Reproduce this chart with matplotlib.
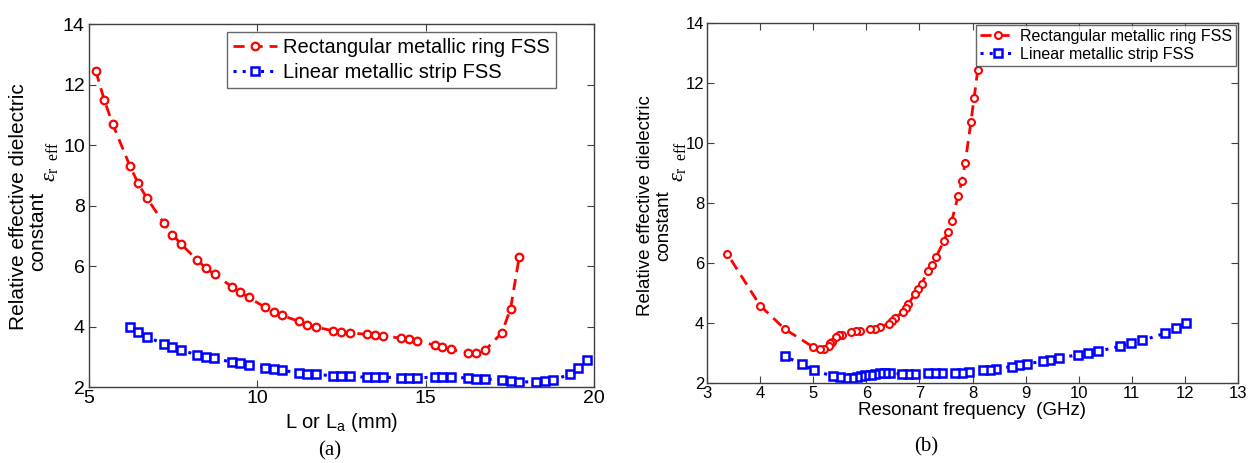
import matplotlib
matplotlib.use("Agg")
import matplotlib.pyplot as plt

plt.rcParams['font.family'] = ['Liberation Sans', 'DejaVu Sans']
plt.rcParams['mathtext.fontset'] = 'custom'
plt.rcParams['mathtext.rm'] = 'Liberation Serif'
plt.rcParams['mathtext.it'] = 'Liberation Serif:italic'
plt.rcParams['mathtext.sf'] = 'Liberation Sans'
plt.rcParams['mathtext.fallback'] = 'stix'

# ---- data ----
L_ring = [5.2, 5.45, 5.7, 6.21, 6.46, 6.72, 7.23, 7.48, 7.73, 8.22, 8.47, 8.73,
          9.25, 9.49, 9.74, 10.24, 10.49, 10.73, 11.23, 11.48, 11.75, 12.24, 12.49, 12.75,
          13.26, 13.5, 13.74, 14.26, 14.5, 14.75, 15.27, 15.5, 15.75, 16.25, 16.5, 16.76,
          17.26, 17.52, 17.78]
eps_ring = [12.45, 11.5, 10.7, 9.32, 8.73, 8.24, 7.41, 7.04, 6.73, 6.19, 5.94, 5.72,
            5.31, 5.13, 4.96, 4.63, 4.49, 4.37, 4.17, 4.06, 3.98, 3.86, 3.81, 3.79,
            3.74, 3.72, 3.70, 3.61, 3.59, 3.53, 3.38, 3.32, 3.24, 3.14, 3.14, 3.21,
            3.79, 4.58, 6.31]
f_ring = [8.10, 8.03, 7.97, 7.86, 7.80, 7.73, 7.61, 7.53, 7.46, 7.31, 7.24, 7.16,
          7.04, 6.97, 6.91, 6.79, 6.74, 6.69, 6.54, 6.49, 6.42, 6.25, 6.17, 6.07,
          5.88, 5.81, 5.71, 5.55, 5.49, 5.42, 5.35, 5.32, 5.29, 5.21, 5.13, 4.99,
          4.47, 4.00, 3.38]

L_strip = [6.21, 6.47, 6.72, 7.23, 7.48, 7.73, 8.22, 8.47, 8.72, 9.25, 9.49, 9.74,
           10.24, 10.49, 10.73, 11.23, 11.48, 11.73, 12.24, 12.49, 12.75, 13.26, 13.5, 13.74,
           14.26, 14.5, 14.75, 15.27, 15.5, 15.75, 16.25, 16.5, 16.76, 17.26, 17.52, 17.78,
           18.29, 18.53, 18.77, 19.29, 19.53, 19.79]
eps_strip = [3.99, 3.83, 3.66, 3.42, 3.33, 3.22, 3.06, 3.00, 2.95, 2.82, 2.78, 2.72,
             2.64, 2.61, 2.55, 2.47, 2.44, 2.42, 2.37, 2.35, 2.35, 2.32, 2.32, 2.32,
             2.31, 2.31, 2.31, 2.32, 2.32, 2.32, 2.30, 2.28, 2.26, 2.23, 2.20, 2.17,
             2.17, 2.19, 2.23, 2.42, 2.62, 2.89]
f_strip = [12.03, 11.84, 11.63, 11.20, 10.99, 10.77, 10.37, 10.18, 9.99, 9.63, 9.46, 9.32,
           9.02, 8.88, 8.74, 8.45, 8.33, 8.20, 7.94, 7.80, 7.67, 7.42, 7.29, 7.17,
           6.92, 6.79, 6.67, 6.45, 6.35, 6.26, 6.17, 6.09, 5.98, 5.90, 5.82, 5.73,
           5.61, 5.51, 5.37, 5.01, 4.79, 4.47]

label_ring = "Rectangular metallic ring FSS"
label_strip = "Linear metallic strip FSS"
xticks_a = [5, 10, 15, 20]
xticks_b = [3, 4, 5, 6, 7, 8, 9, 10, 11, 12, 13]
yticks = [2, 4, 6, 8, 10, 12, 14]

W, H = 1249, 463
fig = plt.figure(figsize=(W / 100, H / 100), dpi=100)

ax1 = fig.add_axes([89 / W, 1 - 387 / H, (594 - 89) / W, (387 - 24) / H])
ax2 = fig.add_axes([707 / W, 1 - 383 / H, (1238 - 707) / W, (383 - 23) / H])

red = '#FF0000'
blue = '#0000FF'
spine_c = '#404040'


def style(ax, tsize):
    for s in ax.spines.values():
        s.set_color(spine_c)
        s.set_linewidth(1.0)
    ax.tick_params(direction='in', top=True, right=True, length=5, width=0.8,
                   colors=spine_c, labelcolor='black', labelsize=tsize, pad=2)
    ax.set_ylim(2, 14)
    ax.set_yticks(yticks)


# ---- panel (a) ----
ax1.plot(L_ring, eps_ring, color=red, linestyle=(0, (4, 2.5)), linewidth=2,
         marker='o', markersize=5.5, markerfacecolor='white', markeredgecolor=red,
         markeredgewidth=1.6, label=label_ring)
ax1.plot(L_strip, eps_strip, color=blue, linestyle=(0, (1, 2)), linewidth=2.2,
         marker='s', markersize=5.5, markerfacecolor='white', markeredgecolor=blue,
         markeredgewidth=1.8, label=label_strip)
ax1.set_xlim(5, 20)
ax1.set_xticks(xticks_a)
style(ax1, 14)
ax1.tick_params(axis='y', pad=3)
ax1.set_xlabel(r"L or L$_{\mathsf{a}}$ (mm)", fontsize=14.5, labelpad=3)
leg1 = ax1.legend(loc='upper left', bbox_to_anchor=((227 - 89) / (594 - 89), 1 - (32 - 24) / 363),
                  fontsize=14.5, frameon=True, fancybox=False, handlelength=2.2,
                  handletextpad=0.3, borderpad=0.3, labelspacing=0.3, borderaxespad=0)
leg1.get_frame().set_edgecolor('#404040')
leg1.get_frame().set_linewidth(1.0)

# ---- panel (b) ----
ax2.plot(f_ring, eps_ring, color=red, linestyle=(0, (4, 2.5)), linewidth=2,
         marker='o', markersize=5, markerfacecolor='white', markeredgecolor=red,
         markeredgewidth=1.5, label=label_ring)
ax2.plot(f_strip, eps_strip, color=blue, linestyle=(0, (1, 2)), linewidth=2.2,
         marker='s', markersize=5.5, markerfacecolor='white', markeredgecolor=blue,
         markeredgewidth=1.8, label=label_strip)
ax2.set_xlim(3, 13)
ax2.set_xticks(xticks_b)
style(ax2, 12)
ax2.set_xlabel("Resonant frequency  (GHz)", fontsize=13.5, labelpad=1)
leg2 = ax2.legend(loc='upper right', fontsize=11.5, frameon=True, fancybox=False,
                  handlelength=2.2, handletextpad=0.3, borderpad=0.25, labelspacing=0.2,
                  borderaxespad=0.1)
leg2.get_frame().set_edgecolor('#404040')
leg2.get_frame().set_linewidth(1.0)

# ---- y labels ----
eps_lab = r"$\mathit{\varepsilon}_{\mathrm{r\ \ eff}}$"
fig.text(19 / W, 1 - 207 / H, "Relative effective dielectric", rotation=90,
         ha='center', va='center', fontsize=15)
fig.text(38 / W, 1 - 231 / H, "constant", rotation=90, ha='center', va='center', fontsize=15)
fig.text(50 / W, 1 - 162 / H, eps_lab, rotation=90,
         ha='center', va='center', fontsize=16)

fig.text(645 / W, 1 - 206 / H, "Relative effective dielectric", rotation=90,
         ha='center', va='center', fontsize=13.5)
fig.text(664 / W, 1 - 226 / H, "constant", rotation=90, ha='center', va='center', fontsize=13.5)
fig.text(677 / W, 1 - 162 / H, eps_lab, rotation=90,
         ha='center', va='center', fontsize=16)

# ---- panel captions ----
fig.text(330 / W, 1 - 451 / H, "(a)", ha='center', va='center', fontsize=15,
         family=['Liberation Serif', 'DejaVu Serif'])
fig.text(926 / W, 1 - 447 / H, "(b)", ha='center', va='center', fontsize=15,
         family=['Liberation Serif', 'DejaVu Serif'])

fig.savefig("out.png", dpi=100)
